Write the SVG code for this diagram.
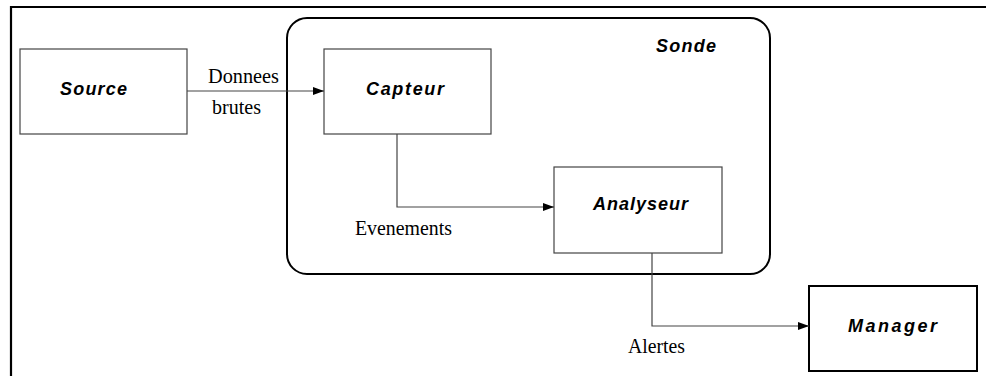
<svg xmlns="http://www.w3.org/2000/svg" width="986" height="376" viewBox="0 0 986 376">
<defs>
<marker id="arr" markerWidth="11" markerHeight="8" refX="11" refY="4" orient="auto" markerUnits="userSpaceOnUse">
<path d="M0,0 L11,4 L0,8 Z" fill="#000"/>
</marker>
<style>
.box{fill:#fff;stroke:#444;stroke-width:1.2}
.bold{fill:#fff;stroke:#000;stroke-width:2}
.nl{font-family:"Liberation Sans",Arial,sans-serif;font-weight:bold;font-style:italic;font-size:18px;fill:#000}
.el{font-family:"Liberation Serif","Times New Roman",serif;font-size:20px;fill:#000}
.con{fill:none;stroke:#444;stroke-width:1.2}
</style>
</defs>
<rect width="986" height="376" fill="#fff"/>
<g id="frame">
<path d="M11,376 L11,7 L986,7" fill="none" stroke="#000" stroke-width="2.2"/>
</g>
<g id="sonde">
<rect x="287" y="18" width="483" height="256" rx="20" ry="20" fill="none" stroke="#000" stroke-width="2"/>
<text class="nl" x="656" y="52" textLength="60" lengthAdjust="spacing">Sonde</text>
</g>
<g id="source">
<rect class="box" x="20" y="49" width="167" height="85"/>
<text class="nl" x="60" y="95" textLength="67" lengthAdjust="spacing">Source</text>
</g>
<g id="capteur">
<rect class="box" x="324" y="49" width="167" height="85"/>
<text class="nl" x="366" y="95" textLength="78" lengthAdjust="spacing">Capteur</text>
</g>
<g id="analyseur">
<rect class="box" x="554" y="167" width="168" height="86"/>
<text class="nl" x="593" y="210" textLength="95" lengthAdjust="spacing">Analyseur</text>
</g>
<g id="manager">
<rect class="bold" x="809" y="286" width="168" height="85"/>
<text class="nl" x="848" y="332" textLength="89" lengthAdjust="spacing">Manager</text>
</g>
<g id="connectors">
<path class="con" d="M187,91 L324,91" marker-end="url(#arr)"/>
<path class="con" d="M397,134 L397,207 L554,207" marker-end="url(#arr)"/>
<path class="con" d="M652,253 L652,326 L809,326" marker-end="url(#arr)"/>
<text class="el" x="208" y="83" textLength="71" lengthAdjust="spacingAndGlyphs">Donnees</text>
<text class="el" x="212" y="114" textLength="49" lengthAdjust="spacingAndGlyphs">brutes</text>
<text class="el" x="355" y="235" textLength="97" lengthAdjust="spacingAndGlyphs">Evenements</text>
<text class="el" x="628" y="353" textLength="57" lengthAdjust="spacingAndGlyphs">Alertes</text>
</g>
</svg>
